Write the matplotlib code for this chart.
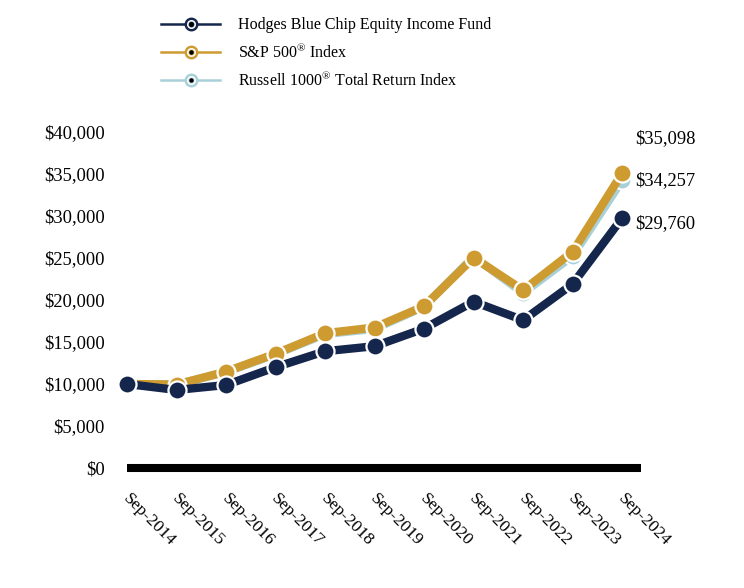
import matplotlib
matplotlib.use("Agg")
import matplotlib.pyplot as plt
import matplotlib.transforms as mtransforms
from matplotlib.lines import Line2D
from matplotlib.ticker import FuncFormatter

periods = ['Sep-2014', 'Sep-2015', 'Sep-2016', 'Sep-2017', 'Sep-2018', 'Sep-2019',
           'Sep-2020', 'Sep-2021', 'Sep-2022', 'Sep-2023', 'Sep-2024']
hodges = [10000, 9290, 9880, 12000, 13900, 14500, 16600, 19800, 17600, 21900, 29760]
sp500 = [10000, 9939, 11472, 13607, 16044, 16726, 19260, 25039, 21165, 25741, 35098]
russell = [10000, 9939, 11423, 13540, 15945, 16562, 19213, 25162, 20829, 25243, 34257]
series_names = ['Hodges Blue Chip Equity Income Fund',
                'S&P 500$^{\\circledR}$ Index',
                'Russell 1000$^{\\circledR}$ Total Return Index']
yticks = [0, 5000, 10000, 15000, 20000, 25000, 30000, 35000, 40000]

NAVY = '#14264B'
GOLD = '#CD9B30'
LBLUE = '#A8D0D8'

plt.rcParams['font.family'] = ['Liberation Serif', 'DejaVu Serif']
plt.rcParams['mathtext.fontset'] = 'custom'
plt.rcParams['mathtext.rm'] = 'Liberation Serif'

fig = plt.figure(figsize=(7.44, 5.88), dpi=100)
ax = fig.add_axes([127/744, 1-468/588, (641-127)/744, (468-132)/588])

x = list(range(len(periods)))
for vals, col, z in [(russell, LBLUE, 3), (sp500, GOLD, 4), (hodges, NAVY, 5)]:
    ax.plot(x, vals, color=col, lw=6.0, marker='o', ms=13, mfc=col,
            mec='white', mew=1.6, zorder=z, clip_on=False, solid_capstyle='butt')

ax.set_xlim(0, 10.38)
ax.set_ylim(0, 40000)
ax.set_yticks(yticks)
ax.yaxis.set_major_formatter(FuncFormatter(lambda v, p: '${:,.0f}'.format(v)))
ax.set_xticks(x)
ax.set_xticklabels(periods, rotation=-45, ha='left', va='top', rotation_mode='anchor')
ax.tick_params(axis='y', length=0, pad=16, labelsize=13.3)
ax.tick_params(axis='x', length=0, pad=16, labelsize=12.6)
off = mtransforms.ScaledTranslation(4/100, 0, fig.dpi_scale_trans)
for lbl in ax.get_xticklabels():
    lbl.set_transform(lbl.get_transform() + off)
for s in ['top', 'left', 'right']:
    ax.spines[s].set_visible(False)
ax.spines['bottom'].set_linewidth(5.8)
ax.spines['bottom'].set_color('black')
ax.spines['bottom'].set_capstyle('butt')

# end labels
ends = [(sp500[-1], 25), (russell[-1], 0), (hodges[-1], -4)]
for v, dy in ends:
    ax.annotate('${:,.0f}'.format(v), xy=(x[-1], v), xytext=(9.5, dy),
                textcoords='offset points', ha='left', va='center', fontsize=13.3)

# legend
handles = []
for col in [NAVY, GOLD, LBLUE]:
    h1 = Line2D([], [], color=col, lw=1.8, marker='o', ms=9, mfc=col, mec=col)
    h2 = Line2D([], [], ls='none', marker='o', ms=5.5, mfc='white', mec='white')
    h3 = Line2D([], [], ls='none', marker='o', ms=3.2, mfc=col, mec=col)
    h4 = Line2D([], [], ls='none', marker='o', ms=2.2, mfc='black', mec='black')
    handles.append((h1, h2, h3, h4))
leg = fig.legend(handles, series_names, loc='upper left',
                 bbox_to_anchor=(147/744, 1-3/588), frameon=False, fontsize=11.5,
                 handlelength=3.7, handletextpad=1.1, labelspacing=0.6)

fig.savefig('out.png', dpi=100)
